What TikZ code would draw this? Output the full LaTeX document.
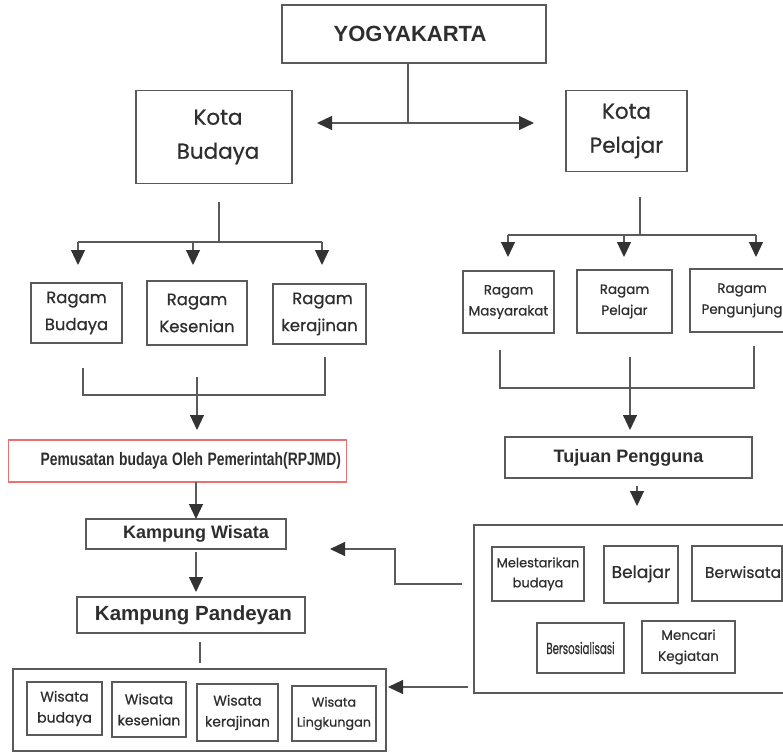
\documentclass[tikz,border=0pt]{standalone}
\usepackage{fontspec}
\usepackage{graphicx}
\setmainfont{Poppins}[FakeBold=0.6]
\newfontfamily\arialf{Liberation Sans}
\usetikzlibrary{arrows.meta}
\definecolor{ln}{HTML}{5A5A5A}
\definecolor{tx}{HTML}{2E2E2E}
\definecolor{ah}{HTML}{333333}
\definecolor{rd}{HTML}{E87272}
\tikzset{
  bx/.style={draw=ln, line width=1.1pt, text=tx, align=center, inner sep=0pt},
  cn/.style={draw=ln, line width=1.1pt},
  arr/.style={cn, -{Triangle[width=14pt,length=15pt,color=ah]}},
  fA/.style={font=\fontsize{21.5}{34}\selectfont},
  fB/.style={font=\fontsize{16.5}{27}\selectfont},
  fC/.style={font=\fontsize{13.5}{21}\selectfont},
  fD/.style={font=\fontsize{13}{20}\selectfont},
  fW/.style={font=\fontsize{14}{21}\selectfont},
  fE/.style={font=\fontsize{17}{22}\selectfont},
  bA/.style={font=\arialf\bfseries\fontsize{22}{26}\selectfont},
  bB/.style={font=\arialf\bfseries\fontsize{18}{22}\selectfont},
  bC/.style={font=\arialf\bfseries\fontsize{20.5}{24}\selectfont},
}
\begin{document}
\begin{tikzpicture}[x=1pt,y=-1pt]
\useasboundingbox (0,0) rectangle (783,754);
\clip (0,0) rectangle (783,754);
\fill[white] (0,0) rectangle (783,754);

% top
\node[bx, bA, minimum width=264, minimum height=58] (yog) at (414,34) {\hspace*{-8pt}YOGYAKARTA};
\node[bx, fA, minimum width=156, minimum height=93] (kb) at (214,137) {\hspace*{8pt}Kota\\\hspace*{8pt}Budaya};
\node[bx, fA, minimum width=121, minimum height=81] (kp) at (626.5,131) {Kota\\Pelajar};

\coordinate (j1) at (408,123);
\coordinate (al) at (317,123);
\coordinate (ar) at (534,123);
\draw[cn] (yog.south -| j1) -- (j1);
\draw[arr] (j1) -- (al);
\draw[arr] (j1) -- (ar);

% left ragam
\node[bx, fB, minimum width=91, minimum height=60] (rb) at (76.5,313) {Ragam\\Budaya};
\node[bx, fB, minimum width=100, minimum height=64] (rk) at (197,313) {Ragam\\Kesenian};
\node[bx, fB, minimum width=93, minimum height=60] (rkj) at (319.5,314) {\hspace*{6pt}Ragam\\kerajinan};

\coordinate (L0) at (219,202);
\coordinate (L1) at (219,242);
\coordinate (La) at (78,242);
\coordinate (Lb) at (193,242);
\coordinate (Lc) at (322,242);
\coordinate (Lat) at (78,265);
\coordinate (Lbt) at (193,265);
\coordinate (Lct) at (322,265);
\draw[cn] (L0) -- (L1);
\draw[cn] (La) -- (Lc);
\draw[arr] (La) -- (Lat);
\draw[arr] (Lb) -- (Lbt);
\draw[arr] (Lc) -- (Lct);

% right ragam
\node[bx, fC, minimum width=91, minimum height=62] (rm) at (508.5,302) {Ragam\\Masyarakat};
\node[bx, fC, minimum width=95, minimum height=63] (rp) at (624.5,301.5) {Ragam\\Pelajar};
\node[bx, fC, minimum width=104, minimum height=63] (rpg) at (742,300.5) {Ragam\\Pengunjung};

\coordinate (R0) at (640,197);
\coordinate (R1) at (640,235);
\coordinate (Ra) at (508,235);
\coordinate (Rb) at (624,235);
\coordinate (Rc) at (756,235);
\coordinate (Rat) at (508,257);
\coordinate (Rbt) at (624,257);
\coordinate (Rct) at (756,257);
\draw[cn] (R0) -- (R1);
\draw[cn] (Ra) -- (Rc);
\draw[arr] (Ra) -- (Rat);
\draw[arr] (Rb) -- (Rbt);
\draw[arr] (Rc) -- (Rct);

% left bracket
\coordinate (B1) at (83,368);
\coordinate (B2) at (325,395);
\coordinate (B3) at (325,357);
\coordinate (M1) at (197,377);
\coordinate (M2) at (197,430);
\draw[cn] (B1) |- (B2) -- (B3);
\draw[arr] (M1) -- (M2);

% right bracket
\coordinate (C1) at (500,350);
\coordinate (C2) at (754,388);
\coordinate (C3) at (754,346);
\coordinate (N1) at (630,357);
\coordinate (N2) at (630,430);
\draw[cn] (C1) |- (C2) -- (C3);
\draw[arr] (N1) -- (N2);

% left column
\node[draw=rd, line width=1.1pt, text=tx, inner sep=0pt, minimum height=42, text width=338pt, align=left, anchor=west,
      font=\arialf\bfseries\fontsize{18}{22}\selectfont] (pem) at (8,461)
      {\hspace*{32pt}\scalebox{0.77}[1]{Pemusatan budaya Oleh Pemerintah(RPJMD)}};
\node[bx, bB, minimum width=200, minimum height=30] (kw) at (186,534) {\hspace*{20pt}Kampung Wisata};
\node[bx, bC, minimum width=228, minimum height=36] (kpd) at (191,615) {\hspace*{5pt}Kampung Pandeyan};

\coordinate (P1) at (196,482);
\coordinate (P2) at (196,519);
\coordinate (Q1) at (196,552);
\coordinate (Q2) at (196,592);
\coordinate (S1) at (200,642);
\coordinate (S2) at (200,663);
\draw[arr] (P1) -- (P2);
\draw[arr] (Q1) -- (Q2);
\draw[cn] (S1) -- (S2);

% bottom wisata group
\node[bx, minimum width=373, minimum height=82] (wg) at (199.5,710) {};
\node[bx, fW, minimum width=75, minimum height=53] (wb) at (64.5,708.5) {Wisata\\budaya};
\node[bx, fW, minimum width=74, minimum height=55] (wk) at (149,709.5) {Wisata\\kesenian};
\node[bx, fW, minimum width=81, minimum height=57] (wkj) at (237.5,712.5) {Wisata\\kerajinan};
\node[bx, font=\fontsize{12.8}{20}\selectfont, minimum width=84, minimum height=55] (wl) at (334,713.5) {Wisata\\Lingkungan};

% right column
\node[bx, bB, minimum width=247, minimum height=41] (tp) at (628.5,457.5) {Tujuan Pengguna};
\coordinate (T1) at (637,486);
\coordinate (T2) at (637,506);
\draw[arr] (T1) -- (T2);

\node[bx, minimum width=316, minimum height=168] (tg) at (632,609) {};
\node[bx, fD, minimum width=92, minimum height=54] (ml) at (538,574) {Melestarikan\\budaya};
\node[bx, fE, minimum width=74, minimum height=57] (bl) at (641,574.5) {\raisebox{6pt}{Belajar}};
\node[bx, font=\fontsize{15.5}{20}\selectfont, minimum width=90, minimum height=55] (bw) at (737,573.5) {\raisebox{3pt}{\hspace*{12pt}Berwisata}};
\node[bx, font=\fontsize{16}{20}\selectfont, minimum width=87, minimum height=50] (bs) at (580.5,648) {\scalebox{0.64}[1]{Bersosialisasi}};
\node[bx, fC, minimum width=93, minimum height=52] (mc) at (688.5,647) {Mencari\\Kegiatan};

% feedback arrows
\coordinate (F0) at (462,584);
\coordinate (F1) at (395,549);
\coordinate (F2) at (330,549);
\draw[arr] (F0) -| (F1) -- (F2);
\coordinate (G0) at (468,687);
\coordinate (G1) at (388,687);
\draw[arr] (G0) -- (G1);
\end{tikzpicture}
\end{document}
